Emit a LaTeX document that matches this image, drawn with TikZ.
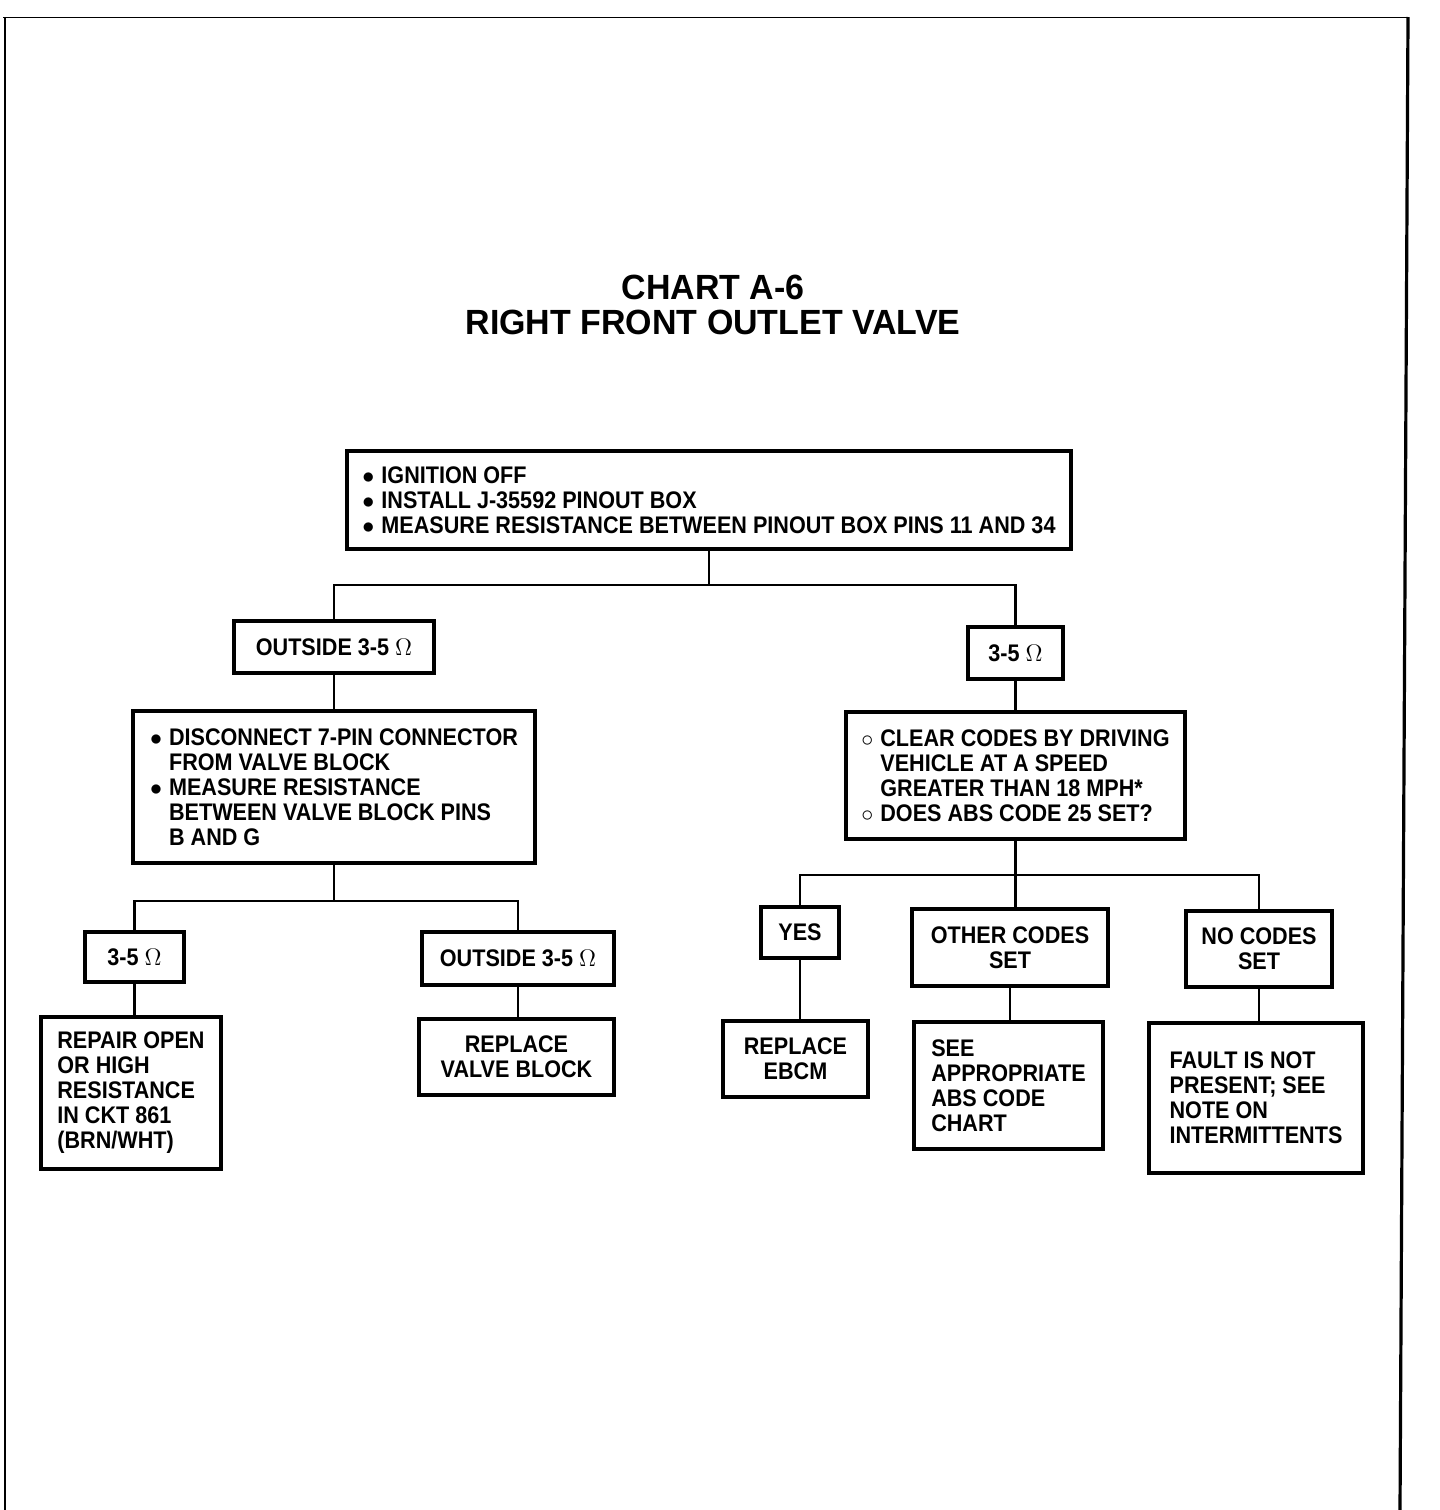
\documentclass[tikz,border=0pt]{standalone}
\usepackage{fontspec}
\usepackage{amsmath}
\newfontfamily\chartfont{Liberation Sans}[FakeStretch=0.9]
\newfontfamily\titlefont{Liberation Sans}[FakeStretch=0.97]
\newcommand{\bul}{\makebox[9.5pt][l]{$\bullet$}}
\newcommand{\opn}{\makebox[9.5pt][l]{$\circ$}}
\newcommand{\ind}{\hspace*{9.5pt}}

\begin{document}
\begin{tikzpicture}[x=0.5pt,y=-0.5pt,
  box/.style={draw,line width=1.8pt,inner sep=0pt,align=left,
    font=\chartfont\bfseries\fontsize{12}{12.5}\selectfont},
  cbox/.style={box,align=center},
  conn/.style={line width=1.3pt}]
  \useasboundingbox (0,0) rectangle (1440,1510);
  %% page frame
  \draw[line width=0.5pt] (3,17) -- (1408,17);
  \draw[line width=0.6pt] (5,17) -- (5,1510);
  \draw[line width=1.6pt] (1408,17) -- (1400,1510);

  \node[font=\titlefont\bfseries\fontsize{17.5}{17.5}\selectfont,align=center]
    at (713,305) (TTL) {CHART A-6\\RIGHT FRONT OUTLET VALVE};

  \node[box,minimum width=362pt,minimum height=49pt] at (709,500) (TOP)
    {\bul IGNITION OFF\\
     \bul INSTALL J-35592 PINOUT BOX\\
     \bul MEASURE RESISTANCE BETWEEN PINOUT BOX PINS 11 AND 34};

  \node[cbox,minimum width=100pt,minimum height=26pt] at (334,647) (OUT1)
    {OUTSIDE 3-5 $\Omega$};
  \node[cbox,minimum width=47.5pt,minimum height=26pt] at (1015.5,653) (IN1)
    {3-5 $\Omega$};

  \node[box,minimum width=201pt,minimum height=76pt] at (334,787) (DISC)
    {\bul DISCONNECT 7-PIN CONNECTOR\\
     \ind FROM VALVE BLOCK\\
     \bul MEASURE RESISTANCE\\
     \ind BETWEEN VALVE BLOCK PINS\\
     \ind B AND G};
  \node[box,minimum width=169.5pt,minimum height=63.5pt] at (1015.5,775.5) (CLR)
    {\opn CLEAR CODES BY DRIVING\\
     \ind VEHICLE AT A SPEED\\
     \ind GREATER THAN 18 MPH*\\
     \opn DOES ABS CODE 25 SET?};

  \node[cbox,minimum width=49.5pt,minimum height=25pt] at (134.5,957) (IN2)
    {3-5 $\Omega$};
  \node[cbox,minimum width=96pt,minimum height=26.5pt] at (518,958.5) (OUT2)
    {OUTSIDE 3-5 $\Omega$};
  \node[box,minimum width=90pt,minimum height=76pt] at (131,1093) (REP)
    {REPAIR OPEN\\OR HIGH\\RESISTANCE\\IN CKT 861\\(BRN/WHT)};
  \node[cbox,minimum width=97.5pt,minimum height=38pt] at (516.5,1057) (VB)
    {REPLACE\\VALVE BLOCK};

  \node[cbox,minimum width=39pt,minimum height=25.5pt] at (800,932.5) (YES) {YES};
  \node[cbox,minimum width=98pt,minimum height=38.5pt] at (1010,947.5) (OTH)
    {OTHER CODES\\SET};
  \node[cbox,minimum width=73pt,minimum height=38pt] at (1259,949) (NOC)
    {NO CODES\\SET};
  \node[cbox,minimum width=72.5pt,minimum height=38pt] at (795.5,1059) (EBCM)
    {REPLACE\\EBCM};
  \node[box,minimum width=94.5pt,minimum height=63.5pt] at (1008.5,1085.5) (SEE)
    {SEE\\APPROPRIATE\\ABS CODE\\CHART};
  \node[box,minimum width=107pt,minimum height=75pt] at (1256,1098) (FLT)
    {FAULT IS NOT\\PRESENT; SEE\\NOTE ON\\INTERMITTENTS};

  \draw[conn] (TOP.south) -- ++(0,34) coordinate (J1);
  \draw[conn] (OUT1.north) |- (J1) -| (IN1.north);
  \draw[conn] (OUT1.south) -- (DISC.north);
  \draw[conn] (IN1.south) -- (CLR.north);

  \draw[conn] (DISC.south) -- ++(0,36) coordinate (J2);
  \draw[conn] (IN2.north) |- (J2) -| (OUT2.north);
  \draw[conn] (IN2.south) -- (IN2.south |- REP.north);
  \draw[conn] (OUT2.south) -- (OUT2.south |- VB.north);

  \draw[conn] (CLR.south) -- ++(0,34) coordinate (J3);
  \draw[conn] (YES.north) |- (J3) -| (NOC.north);
  \draw[conn] (J3) -- (J3 |- OTH.north);
  \draw[conn] (YES.south) -- (YES.south |- EBCM.north);
  \draw[conn] (OTH.south) -- (OTH.south |- SEE.north);
  \draw[conn] (NOC.south) -- (NOC.south |- FLT.north);
\end{tikzpicture}
\end{document}
